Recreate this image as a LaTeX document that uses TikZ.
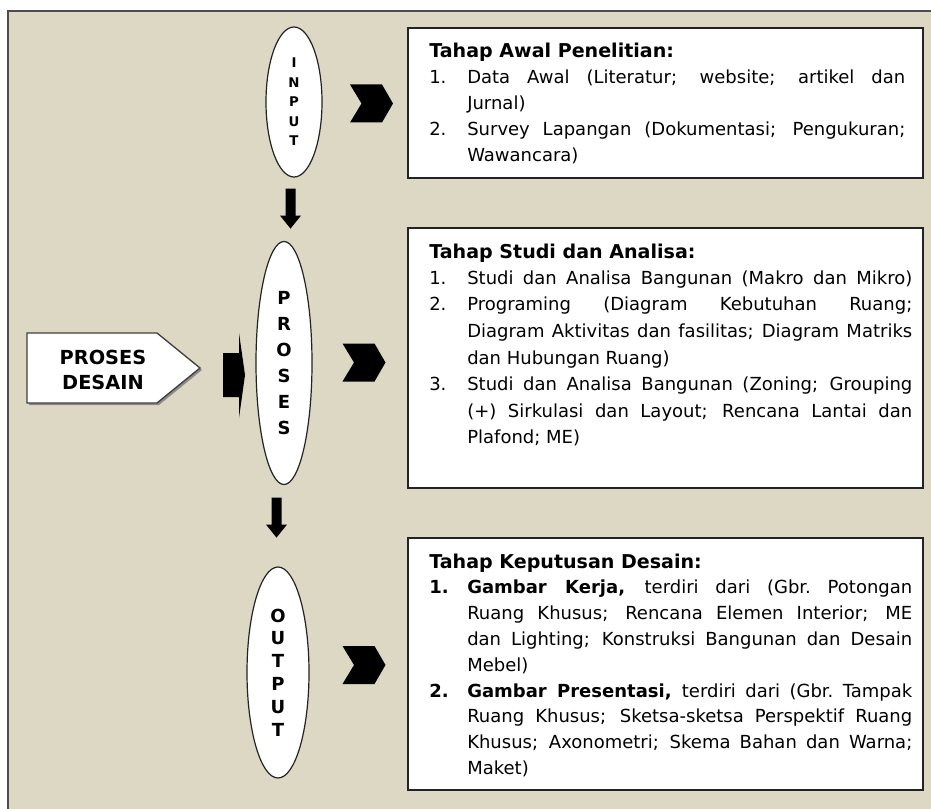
\documentclass[tikz,border=0pt]{standalone}
\usepackage{fontspec}
\setmainfont{DejaVu Sans}
\usetikzlibrary{shapes.geometric,calc}
\definecolor{panel}{RGB}{221,216,195}
\definecolor{edge}{RGB}{35,35,35}
\newlength\tw
\newcommand\numj[2]{\makebox[28.5pt][l]{#1}\makebox[\tw][s]{#2}}
\newcommand\numn[2]{\makebox[28.5pt][l]{#1}#2}
\newcommand\conj[1]{\hspace*{28.5pt}\makebox[\tw][s]{#1}}
\newcommand\conn[1]{\hspace*{28.5pt}#1}
\newcommand\hd[1]{{\fontsize{14.3}{19.5}\selectfont\bfseries #1}}
\tikzset{
  ell/.style={ellipse, draw=edge, line width=0.9pt, fill=white, inner sep=0pt, align=center},
  stage/.style={draw=edge, line width=1.3pt, fill=white, anchor=north west, inner sep=0pt},
  body/.style={anchor=base west, inner sep=0pt},
  chevron/.pic={\fill[black] (-21.5,-19) -- (10.5,-19) -- (21.5,0) -- (10.5,19) -- (-21.5,19) -- (-10,0) -- cycle;},
  downarrow/.pic={\fill[black] (-5,0) -- (5,0) -- (5,27) -- (10.5,27) -- (0,40) -- (-10.5,27) -- (-5,27) -- cycle;}
}
\begin{document}
\begin{tikzpicture}[x=0.75pt,y=-0.75pt]
\useasboundingbox (0,0) rectangle (931,809);
\fill[white] (0,0) rectangle (931,809);
\fill[panel] (8,11) rectangle (931,809);
\draw[line width=1.5pt, black!70] (8,809) -- (8,11) -- (931,11);

% ellipses
\node[ell, minimum width=42pt, minimum height=112.5pt, font=\bfseries\fontsize{10}{14.6}\selectfont] (in) at (294,102) {I\\N\\P\\U\\T};
\node[ell, minimum width=42pt, minimum height=182.25pt, font=\bfseries\fontsize{13.5}{19.5}\selectfont] (pro) at (284,363) {P\\R\\O\\S\\E\\S};
\node[ell, minimum width=46.5pt, minimum height=158.25pt, font=\bfseries\fontsize{13.5}{17.1}\selectfont] (out) at (278,672.5) {O\\U\\T\\P\\U\\T};

% down arrows
\pic at ($(in.south)+(-3.5,11)$) {downarrow};
\pic at ($(pro.south)+(-7.5,12.5)$) {downarrow};

% chevrons
\pic at (371.5,103.5) {chevron};
\pic at (364,362.5) {chevron};
\pic at (364,665) {chevron};

% proses desain
\fill[black!45] (29,335) -- (159,335) -- (202,370) -- (159,405) -- (29,405) -- cycle;
\draw[line width=1pt, draw=black!75, fill=white] (27,333) -- (157,333) -- (200,368) -- (157,403) -- (27,403) -- cycle;
\node[align=center, inner sep=0pt, font=\bfseries\fontsize{14.5}{18.75}\selectfont] (pd) at (103,370) {PROSES\\DESAIN};
\fill[black] (223,353) -- (239,353) -- (239,333) -- (245,375) -- (239,418) -- (239,397) -- (223,397) -- cycle;

% boxes
\node[stage, minimum width=386.25pt, minimum height=112.5pt] (b1) at (407,27) {};
\node[stage, minimum width=386.25pt, minimum height=195pt] (b2) at (407,227) {};
\node[stage, minimum width=386.25pt, minimum height=189pt] (b3) at (407,537) {};

\node[body] (t1) at (429,58) {\setlength\tw{328.5pt}\parbox[t]{361pt}{\fontsize{13.5}{19.5}\selectfont
\hd{Tahap Awal Penelitian:}\\
\numj{1.}{Data Awal (Literatur; website; artikel dan}\\
\conn{Jurnal)}\\
\numj{2.}{Survey Lapangan (Dokumentasi; Pengukuran;}\\
\conn{Wawancara)}}};

\node[body] (t2) at (429,258) {\setlength\tw{333.75pt}\parbox[t]{366pt}{\fontsize{13.5}{19.875}\selectfont
\hd{Tahap Studi dan Analisa:}\\
\numj{1.}{Studi dan Analisa Bangunan (Makro dan Mikro)}\\
\numj{2.}{Programing (Diagram Kebutuhan Ruang;}\\
\conj{Diagram Aktivitas dan fasilitas; Diagram Matriks}\\
\conn{dan Hubungan Ruang)}\\
\numj{3.}{Studi dan Analisa Bangunan (Zoning; Grouping}\\
\conj{(+) Sirkulasi dan Layout; Rencana Lantai dan}\\
\conn{Plafond; ME)}}};

\node[body] (t3) at (429,568) {\setlength\tw{333.75pt}\parbox[t]{366pt}{\fontsize{13.5}{19.35}\selectfont
\hd{Tahap Keputusan Desain:}\\
\numj{\textbf{1.}}{\textbf{Gambar Kerja,} terdiri dari (Gbr.\ Potongan}\\
\conj{Ruang Khusus; Rencana Elemen Interior; ME}\\
\conj{dan Lighting; Konstruksi Bangunan dan Desain}\\
\conn{Mebel)}\\
\numj{\textbf{2.}}{\textbf{Gambar Presentasi,} terdiri dari (Gbr.\ Tampak}\\
\conj{Ruang Khusus; Sketsa-sketsa Perspektif Ruang}\\
\conj{Khusus; Axonometri; Skema Bahan dan Warna;}\\
\conn{Maket)}}};
\end{tikzpicture}
\end{document}
